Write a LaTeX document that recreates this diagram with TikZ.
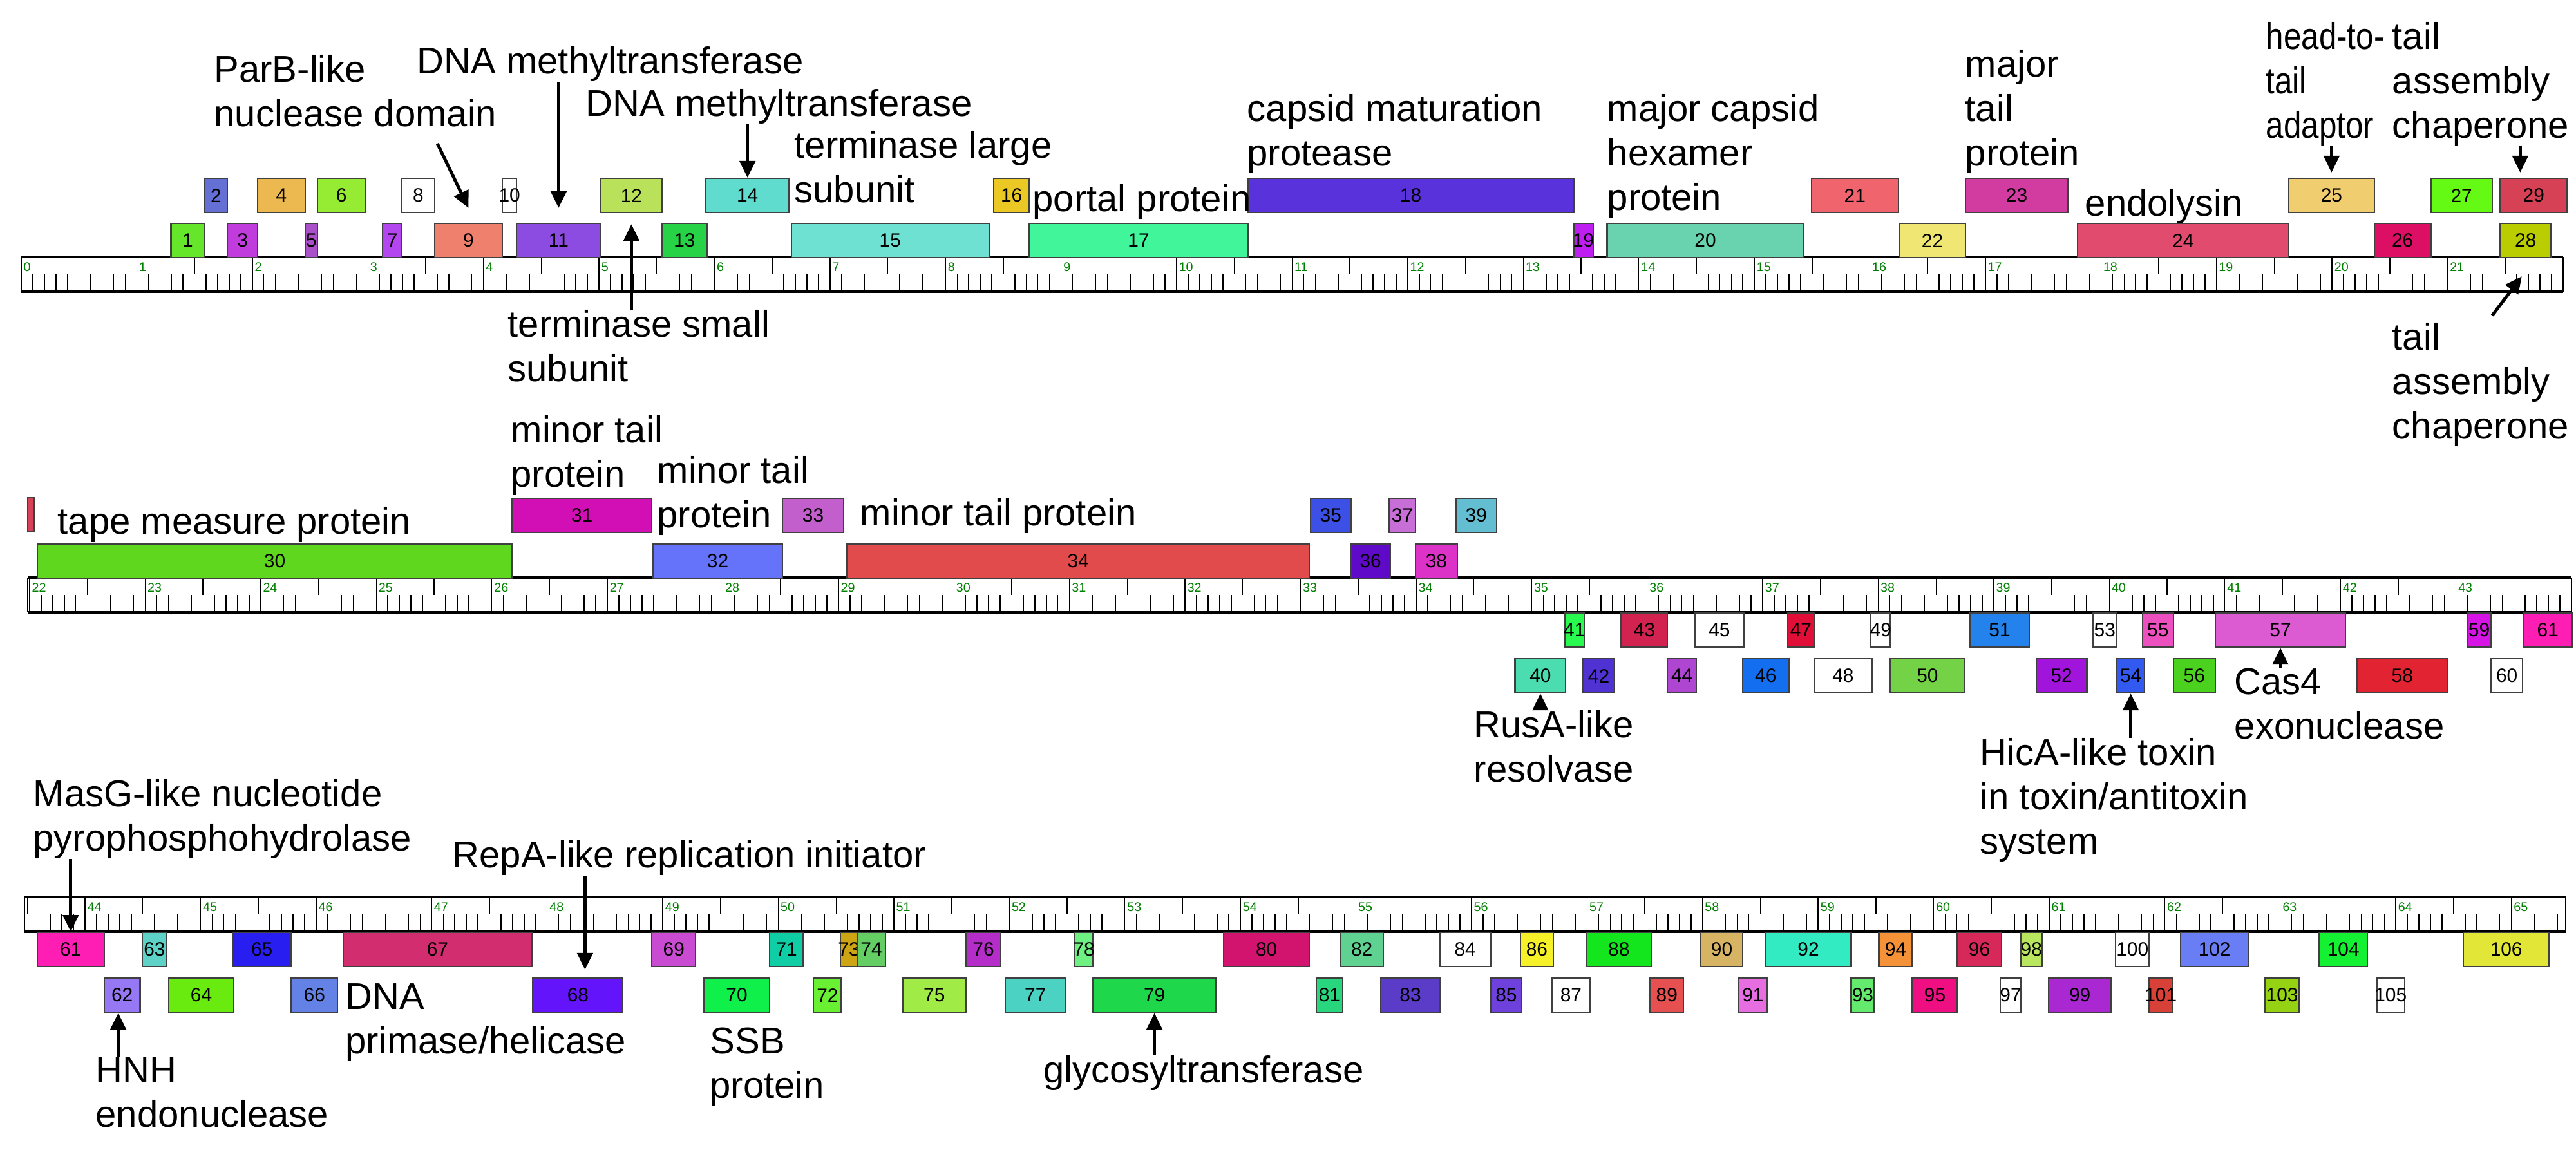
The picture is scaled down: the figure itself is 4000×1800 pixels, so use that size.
\documentclass[tikz,border=0pt]{standalone}
\usepackage{fontspec}
\setmainfont{Liberation Sans}
\usetikzlibrary{arrows.meta}

\definecolor{kbgreen}{RGB}{0,128,0}
\definecolor{tailred}{HTML}{D74155}
\definecolor{pinkgene}{HTML}{FF1EB4}

\tikzset{
  genebox/.style={draw=black!75, line width=0.6pt, inner sep=0pt, anchor=north west,
    minimum height=0.53cm, font=\fontsize{8.5}{10}\selectfont},
  tick/.style={line width=0.4pt},
  kblabel/.style={anchor=north west, inner sep=0pt, xshift=0.03cm, yshift=-0.08cm,
    text=kbgreen, font=\fontsize{5.6}{6}\selectfont},
  lbl/.style={anchor=north west, align=left, inner sep=0pt, font=\fontsize{16.5}{19.6}\selectfont},
  pointer/.style={line width=1.4pt, -{Triangle[width=0.24cm,length=0.26cm]}}
}

% gene box: number, start (kb), end (kb), top (px), colour
\newcommand{\gene}[5]{%
  \definecolor{gc#1}{HTML}{#5}
  \node[genebox, fill=gc#1, minimum width={(#3-#2)*1.793cm}] (g#1) at (#2,#4) {\makebox[0pt]{#1}};
}

% narrow text line
\newcommand{\narrow}[1]{\scalebox{0.85}[1]{#1}}

% ruler: first tenth, last tenth, top (px), start kb, end kb
\newcommand{\drawruler}[5]{%
  \draw[line width=0.5pt] (#4,#3) -- (#4,#3+54) (#5,#3) -- (#5,#3+54);
  \foreach \t in {#1,...,#2} {
    \pgfmathtruncatemacro\m{mod(\t,10)}
    \pgfmathtruncatemacro\kb{\t/10}
    \ifnum\m=0
      \draw[tick] (\t/10,#3) -- (\t/10,#3+54);
      \node[kblabel] at (\t/10,#3) {\kb};
    \else\ifnum\m=5
      \draw[tick] (\t/10,#3) -- (\t/10,#3+27);
    \else
      \draw[tick] (\t/10,#3+27) -- (\t/10,#3+54);
    \fi\fi
  }
  \draw[line width=1.1pt] (#4,#3) -- (#5,#3) (#4,#3+54) -- (#5,#3+54);
}

\begin{document}
\begin{tikzpicture}[x=0.01cm, y=-0.01cm]
    \fill[white] (0,0) rectangle (4000,1800);
    \useasboundingbox (0,0) rectangle (4000,1800);

    % Row 1: 0 - 22 kb
    \begin{scope}[x=1.793cm, xshift=0.33cm]
        \drawruler{0}{219}{399}{0}{22}
        \gene{1}{1.29}{1.58}{346}{66E62A}
        \gene{2}{1.58}{1.78}{276}{6470D4}
        \gene{3}{1.78}{2.04}{346}{C03CDC}
        \gene{4}{2.04}{2.45}{276}{ECB850}
        \gene{5}{2.45}{2.56}{346}{AA50C8}
        \gene{6}{2.56}{2.97}{276}{96EC32}
        \gene{7}{3.12}{3.29}{346}{B446F0}
        \gene{8}{3.29}{3.57}{276}{FFFFFF}
        \gene{9}{3.57}{4.16}{346}{F0806E}
        \gene{10}{4.16}{4.28}{276}{FFFFFF}
        \gene{11}{4.28}{5.01}{346}{8C4BE1}
        \gene{12}{5.01}{5.54}{276}{B9E15A}
        \gene{13}{5.54}{5.93}{346}{28D246}
        \gene{14}{5.92}{6.64}{276}{5FDCCD}
        \gene{15}{6.66}{8.37}{346}{6EE1D2}
        \gene{16}{8.41}{8.72}{276}{EBC823}
        \gene{17}{8.72}{10.61}{346}{41F59B}
        \gene{18}{10.61}{13.43}{276}{5A32DC}
        \gene{19}{13.43}{13.60}{346}{BE1EF0}
        \gene{20}{13.72}{15.42}{346}{69D2AF}
        \gene{21}{15.49}{16.24}{276}{F0646E}
        \gene{22}{16.25}{16.82}{346}{F0E673}
        \gene{23}{16.82}{17.71}{276}{D23CA0}
        \gene{24}{17.79}{19.62}{346}{E14B6E}
        \gene{25}{19.62}{20.36}{276}{F0CD6E}
        \gene{26}{20.36}{20.85}{346}{DC0F64}
        \gene{27}{20.85}{21.38}{276}{64FA14}
        \gene{28}{21.45}{21.89}{346}{B9CD00}
        \gene{29}{21.45}{22.03}{276}{D74155}
    \end{scope}

    % Row 2: 22 - 44 kb
    \begin{scope}[x=1.793cm, xshift=-38.986cm]
        \drawruler{220}{439}{897}{21.985}{44}
        \draw[draw=black!75, line width=0.6pt, fill=tailred] (21.985,773) rectangle (22.04,826);
        \gene{30}{22.06}{26.17}{844}{5FD71E}
        \gene{31}{26.17}{27.38}{773}{D20FB4}
        \gene{32}{27.39}{28.51}{844}{6473FA}
        \gene{33}{28.51}{29.04}{773}{C35FCD}
        \gene{34}{29.07}{33.07}{844}{E14B4B}
        \gene{35}{33.08}{33.43}{773}{3C50E6}
        \gene{36}{33.43}{33.77}{844}{5F0AC8}
        \gene{37}{33.76}{33.99}{773}{C86ED7}
        \gene{38}{33.99}{34.35}{844}{DC32C8}
        \gene{39}{34.34}{34.69}{773}{64BED2}
        \gene{40}{34.85}{35.29}{1022}{4BDCAF}
        \gene{41}{35.28}{35.45}{951}{28FA50}
        \gene{42}{35.44}{35.71}{1022}{5032D2}
        \gene{43}{35.77}{36.17}{951}{D22350}
        \gene{44}{36.17}{36.42}{1022}{AF46D2}
        \gene{45}{36.41}{36.83}{951}{FFFFFF}
        \gene{46}{36.82}{37.22}{1022}{146EF0}
        \gene{47}{37.21}{37.44}{951}{E10F37}
        \gene{48}{37.44}{37.94}{1022}{FFFFFF}
        \gene{49}{37.93}{38.10}{951}{FFFFFF}
        \gene{50}{38.10}{38.74}{1022}{73D246}
        \gene{51}{38.79}{39.30}{951}{2382EB}
        \gene{52}{39.36}{39.80}{1022}{A014DC}
        \gene{53}{39.85}{40.06}{951}{FFFFFF}
        \gene{54}{40.06}{40.30}{1022}{325AF0}
        \gene{55}{40.28}{40.55}{951}{EB50BE}
        \gene{56}{40.55}{40.91}{1022}{4BD21E}
        \gene{57}{40.91}{42.04}{951}{DC5AD2}
        \gene{58}{42.14}{42.92}{1022}{E12332}
        \gene{59}{43.09}{43.30}{951}{D714E6}
        \gene{60}{43.30}{43.57}{1022}{FFFFFF}
        \node[genebox, fill=pinkgene, minimum width=0.753cm] (g61b) at (43.58,951) {\makebox[0pt]{61}};
    \end{scope}

    % Row 3: 43.5 - 65.5 kb
    \begin{scope}[x=1.793cm, xshift=-77.572cm]
        \drawruler{435}{654}{1393}{43.475}{65.47}
        \gene{61}{43.58}{44.16}{1447}{FF1EB4}
        \gene{62}{44.16}{44.47}{1518}{9678F5}
        \gene{63}{44.49}{44.70}{1447}{5FD2C8}
        \gene{64}{44.72}{45.28}{1518}{69EB0F}
        \gene{65}{45.27}{45.78}{1447}{281EF0}
        \gene{66}{45.78}{46.18}{1518}{6482E6}
        \gene{67}{46.23}{47.86}{1447}{D22D6E}
        \gene{68}{47.87}{48.65}{1518}{6414FA}
        \gene{69}{48.90}{49.28}{1447}{C84BD2}
        \gene{70}{49.35}{49.92}{1518}{0FF04B}
        \gene{71}{49.92}{50.21}{1447}{0FCDA5}
        \gene{72}{50.30}{50.54}{1518}{69F032}
        \gene{73}{50.53}{50.68}{1447}{CDA514}
        \gene{74}{50.68}{50.92}{1447}{64CD64}
        \gene{75}{51.07}{51.62}{1518}{A0EB46}
        \gene{76}{51.62}{51.92}{1447}{B42DC8}
        \gene{77}{51.96}{52.48}{1518}{4BD2C3}
        \gene{78}{52.56}{52.72}{1447}{6EF082}
        \gene{79}{52.72}{53.78}{1518}{1ED74B}
        \gene{80}{53.85}{54.59}{1447}{D2146E}
        \gene{81}{54.65}{54.88}{1518}{28D77D}
        \gene{82}{54.86}{55.23}{1447}{5FD291}
        \gene{83}{55.21}{55.72}{1518}{5A3CC8}
        \gene{84}{55.72}{56.16}{1447}{FFFFFF}
        \gene{85}{56.16}{56.43}{1518}{6E41DC}
        \gene{86}{56.42}{56.70}{1447}{F5F028}
        \gene{87}{56.69}{57.02}{1518}{FFFFFF}
        \gene{88}{56.99}{57.55}{1447}{14E61E}
        \gene{89}{57.54}{57.83}{1518}{E65050}
        \gene{90}{57.98}{58.34}{1447}{D7B464}
        \gene{91}{58.31}{58.55}{1518}{E66EE1}
        \gene{92}{58.54}{59.28}{1447}{32EBC3}
        \gene{93}{59.28}{59.48}{1518}{64EB6E}
        \gene{94}{59.52}{59.81}{1447}{F59137}
        \gene{95}{59.81}{60.20}{1518}{F00F82}
        \gene{96}{60.20}{60.58}{1447}{D7285A}
        \gene{97}{60.57}{60.75}{1518}{FFFFFF}
        \gene{98}{60.75}{60.93}{1447}{B9E65F}
        \gene{99}{60.99}{61.53}{1518}{AA28D2}
        \gene{100}{61.57}{61.86}{1447}{FFFFFF}
        \gene{101}{61.86}{62.06}{1518}{D74137}
        \gene{102}{62.13}{62.72}{1447}{697DF5}
        \gene{103}{62.86}{63.16}{1518}{96D214}
        \gene{104}{63.33}{63.75}{1447}{14F032}
        \gene{105}{63.83}{64.07}{1518}{FFFFFF}
        \gene{106}{64.58}{65.32}{1447}{E1E637}
    \end{scope}

    % Labels, row 1
    \node[lbl] (parb) at (332,85) {ParB-like\\nuclease domain};
    \node[lbl] (dmta) at (647,72) {DNA methyltransferase};
    \node[lbl] (dmtb) at (909,138) {DNA methyltransferase};
    \node[lbl] (termlarge) at (1233,203) {terminase large\\subunit};
    \node[lbl] (portal) at (1603,286) {portal protein};
    \node[lbl] (capsidmat) at (1936,146) {capsid maturation\\protease};
    \node[lbl] (mcphex) at (2495,146) {major capsid\\hexamer\\protein};
    \node[lbl] (majortail) at (3051,77) {major\\tail\\protein};
    \node[lbl] (endolysin) at (3237,293) {endolysin};
    \node[lbl] (headtail) at (3518,34) {\narrow{head-to-}\\\narrow{tail}\\\narrow{adaptor}};
    \node[lbl] (chapa) at (3714,34) {tail\\assembly\\chaperone};
    \node[lbl] (termsmall) at (788,481) {terminase small\\subunit};
    \node[lbl] (chapb) at (3714,501) {tail\\assembly\\chaperone};

    % Labels, row 2
    \node[lbl] (tapemeasure) at (89,787) {tape measure protein};
    \node[lbl] (minortaila) at (793,645) {minor tail\\protein};
    \node[lbl] (minortailb) at (1020,708) {minor tail\\protein};
    \node[lbl] (minortailc) at (1335,774) {minor tail protein};
    \node[lbl] (rusa) at (2288,1103) {RusA-like\\resolvase};
    \node[lbl] (cas) at (3469,1037) {Cas4\\exonuclease};
    \node[lbl] (hica) at (3074,1146) {HicA-like toxin\\in toxin/antitoxin\\system};

    % Labels, row 3
    \node[lbl] (masg) at (51,1210) {MasG-like nucleotide\\pyrophosphohydrolase};
    \node[lbl] (repa) at (702,1305) {RepA-like replication initiator};
    \node[lbl] (primase) at (536,1527) {DNA\\primase/helicase};
    \node[lbl] (hnh) at (148,1641) {HNH\\endonuclease};
    \node[lbl] (ssb) at (1102,1595) {SSB\\protein};
    \node[lbl] (glyco) at (1620,1639) {glycosyltransferase};

    % Arrows to annotated genes
    \coordinate (parbTail) at ([xshift=1.27cm,yshift=-0.25cm]parb.south);
    \coordinate (chapaTip) at ([xshift=-0.21cm,yshift=0.08cm]g29.north);
    \coordinate (chapbTip) at ([xshift=-0.06cm,yshift=-0.28cm]g28.south);
    \coordinate (repaTip) at ([xshift=0.11cm,yshift=0.12cm]g68.north);
    \coordinate (hnhTip) at ([xshift=-0.06cm]g62.south);
    \draw[pointer] (parbTail) -- ([yshift=0.23cm]g9.north);
    \draw[pointer] (dmta.south -| g11.north) -- ([yshift=0.23cm]g11.north);
    \draw[pointer] (dmtb.south -| g14.north) -- (g14.north);
    \draw[pointer] (termsmall.north -| g12.south) -- ([yshift=-0.17cm]g12.south);
    \draw[pointer] (headtail.south -| g25.north) -- ([yshift=0.08cm]g25.north);
    \draw[pointer] (chapa.south -| chapaTip) -- (chapaTip);
    \draw[pointer] ([xshift=0.18cm,yshift=0.11cm]chapb.north) -- (chapbTip);
    \draw[pointer] (rusa.north -| g40.south) -- (g40.south);
    \draw[pointer] (cas.north -| g57.south) -- (g57.south);
    \draw[pointer] (hica.north -| g54.south) -- (g54.south);
    \draw[pointer] (masg.south -| g61.north) -- (g61.north);
    \draw[pointer] (repa.south -| repaTip) -- (repaTip);
    \draw[pointer] (hnh.north -| hnhTip) -- (hnhTip);
    \draw[pointer] (glyco.north -| g79.south) -- (g79.south);

\end{tikzpicture}
\end{document}
